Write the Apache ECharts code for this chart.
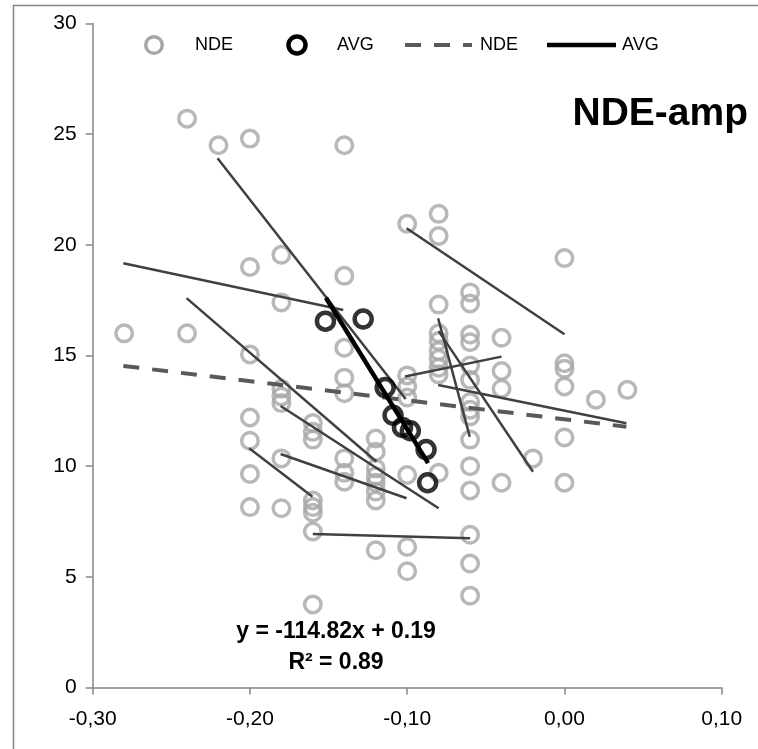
<!DOCTYPE html>
<html>
<head>
<meta charset="utf-8">
<script src="https://cdn.jsdelivr.net/npm/echarts@6/dist/echarts.min.js"></script>
<style>html,body{margin:0;padding:0;background:#fff}#c{width:758px;height:749px}</style>
</head>
<body>
<div id="c"></div>
<script>
// ---- data ----
const xTicks = [-0.3, -0.2, -0.1, 0.0, 0.1];
const yTicks = [0, 5, 10, 15, 20, 25, 30];

const ndeX = [
  -0.28,
  -0.24, -0.24,
  -0.22,
  -0.20, -0.20, -0.20, -0.20, -0.20, -0.20, -0.20,
  -0.18, -0.18, -0.18, -0.18, -0.18, -0.18, -0.18,
  -0.16, -0.16, -0.16, -0.16, -0.16, -0.16, -0.16, -0.16,
  -0.14, -0.14, -0.14, -0.14, -0.14, -0.14, -0.14, -0.14,
  -0.12, -0.12, -0.12, -0.12, -0.12, -0.12, -0.12, -0.12,
  -0.10, -0.10, -0.10, -0.10, -0.10, -0.10, -0.10,
  -0.08, -0.08, -0.08, -0.08, -0.08, -0.08, -0.08, -0.08, -0.08, -0.08,
  -0.06, -0.06, -0.06, -0.06, -0.06, -0.06, -0.06, -0.06, -0.06, -0.06, -0.06, -0.06, -0.06, -0.06, -0.06,
  -0.04, -0.04, -0.04, -0.04,
  -0.02,
  0.00, 0.00, 0.00, 0.00, 0.00, 0.00,
  0.02,
  0.04
];
const ndeY = [
  16.0,
  25.7, 16.0,
  24.5,
  24.8, 19.0, 15.05, 12.2, 11.15, 9.65, 8.15,
  19.55, 17.4, 13.5, 13.15, 12.85, 10.35, 8.1,
  11.95, 11.55, 11.2, 8.45, 8.15, 7.9, 7.05, 3.75,
  24.5, 18.6, 15.35, 14.0, 13.3, 10.35, 9.7, 9.3,
  11.25, 10.65, 9.9, 9.55, 9.25, 8.85, 8.45, 6.2,
  20.95, 14.1, 13.6, 13.1, 9.6, 6.35, 5.25,
  21.4, 20.4, 17.3, 16.0, 15.65, 15.2, 14.85, 14.45, 14.15, 9.7,
  17.85, 17.35, 15.95, 15.6, 14.55, 13.9, 12.9, 12.55, 12.25, 11.2, 10.0, 8.9, 6.9, 5.6, 4.15,
  15.8, 14.3, 13.5, 9.25,
  10.35,
  19.4, 14.65, 14.4, 13.6, 11.3, 9.25,
  13.0,
  13.45
];

const avgX = [-0.152, -0.128, -0.114, -0.109, -0.103, -0.098, -0.088, -0.087];
const avgY = [16.55, 16.65, 13.55, 12.3, 11.75, 11.6, 10.75, 9.25];

// individual (thin) fit lines: start and end points
const segX1 = [-0.2206, -0.2805, -0.1014, -0.0803, -0.0800, -0.0803, -0.1004, -0.2403, -0.1805, -0.1805, -0.2005, -0.1600];
const segY1 = [23.91, 19.17, 14.05, 16.68, 16.10, 13.67, 20.75, 17.59, 12.72, 10.55, 10.81, 6.94];
const segX2 = [-0.1010, -0.1407, -0.0400, -0.0602, -0.0200, 0.0394, 0.0000, -0.1195, -0.0800, -0.1004, -0.1602, -0.0600];
const segY2 = [13.03, 17.06, 14.95, 11.33, 9.75, 11.94, 15.96, 10.20, 8.10, 8.55, 8.62, 6.74];

// trend lines
const ndeTrendX = [-0.2805, 0.0394];
const ndeTrendY = [14.53, 11.78];
const avgTrendX = [-0.1517, -0.0867];
const avgTrendY = [17.61, 10.14];

const titleText = 'NDE-amp';
const eqLine1 = 'y = -114.82x + 0.19';
const eqLine2 = 'R² = 0.89';

// ---- chart ----
const FONT = '"Liberation Sans", Arial, sans-serif';
const chart = echarts.init(document.getElementById('c'), null, {renderer: 'canvas'});

const ndeData = ndeX.map((x, i) => [x, ndeY[i]]);
const avgData = avgX.map((x, i) => [x, avgY[i]]);

const series = [];
series.push({
  type: 'scatter', name: 'NDE', data: ndeData, symbol: 'circle', symbolSize: 16.5,
  itemStyle: {color: 'rgba(0,0,0,0)', borderColor: '#A6A6A6', borderWidth: 3.5}, z: 2, silent: true
});
segX1.forEach((x1, i) => {
  series.push({
    type: 'line', data: [[x1, segY1[i]], [segX2[i], segY2[i]]], showSymbol: false, symbol: 'none',
    lineStyle: {color: '#404040', width: 2.5}, z: 3, silent: true
  });
});
series.push({
  type: 'line', name: 'NDE trend', data: ndeTrendX.map((x, i) => [x, ndeTrendY[i]]), symbol: 'none',
  lineStyle: {color: '#595959', width: 4, type: [16, 13]}, z: 4, silent: true
});
series.push({
  type: 'scatter', name: 'AVG', data: avgData, symbol: 'circle', symbolSize: 17,
  itemStyle: {color: 'rgba(0,0,0,0)', borderColor: '#000000', borderWidth: 4.5}, z: 5, silent: true
});
series.push({
  type: 'line', name: 'AVG trend', data: avgTrendX.map((x, i) => [x, avgTrendY[i]]), symbol: 'none',
  lineStyle: {color: '#000000', width: 4.5}, z: 6, silent: true
});

const axisLineStyle = {color: '#868686', width: 1.5};

chart.setOption({
  animation: false,
  backgroundColor: '#ffffff',
  grid: {left: 92.7, right: 36.3, top: 23.5, bottom: 61.5, containLabel: false},
  xAxis: {
    type: 'value', min: xTicks[0], max: xTicks[xTicks.length - 1], interval: 0.1,
    axisLine: {show: true, onZero: false, lineStyle: axisLineStyle},
    axisTick: {show: true, length: 7, lineStyle: axisLineStyle},
    splitLine: {show: false},
    axisLabel: {
      margin: 21, color: '#000', fontSize: 21, fontFamily: FONT,
      formatter: v => (Math.abs(v) < 1e-9 ? 0 : v).toFixed(2).replace('.', ',')
    }
  },
  yAxis: {
    type: 'value', min: yTicks[0], max: yTicks[yTicks.length - 1], interval: 5,
    axisLine: {show: true, onZero: false, lineStyle: axisLineStyle},
    axisTick: {show: true, length: 7, lineStyle: axisLineStyle},
    splitLine: {show: false},
    axisLabel: {margin: 16, color: '#000', fontSize: 21, fontFamily: FONT}
  },
  series: series,
  graphic: [
    {type: 'rect', shape: {x: 13.5, y: 5.5, width: 900, height: 900}, style: {fill: 'none', stroke: '#868686', lineWidth: 1.5}, silent: true, z: 0},
    {type: 'text', x: 748, y: 114, style: {text: titleText, font: 'bold 39px ' + FONT, fill: '#000', textAlign: 'right', textVerticalAlign: 'middle'}, z: 10},
    {type: 'text', x: 336, y: 632, style: {text: eqLine1, font: 'bold 23px ' + FONT, fill: '#000', textAlign: 'center', textVerticalAlign: 'middle'}, z: 10},
    {type: 'text', x: 336, y: 663, style: {text: eqLine2, font: 'bold 23px ' + FONT, fill: '#000', textAlign: 'center', textVerticalAlign: 'middle'}, z: 10},
    // legend
    {type: 'circle', shape: {cx: 154, cy: 45, r: 8.3}, style: {fill: 'none', stroke: '#A6A6A6', lineWidth: 3.5}, z: 10},
    {type: 'text', x: 195, y: 45, style: {text: 'NDE', font: '18px ' + FONT, fill: '#000', textAlign: 'left', textVerticalAlign: 'middle'}, z: 10},
    {type: 'circle', shape: {cx: 297, cy: 45, r: 8.5}, style: {fill: 'none', stroke: '#000', lineWidth: 4.5}, z: 10},
    {type: 'text', x: 337, y: 45, style: {text: 'AVG', font: '18px ' + FONT, fill: '#000', textAlign: 'left', textVerticalAlign: 'middle'}, z: 10},
    {type: 'line', shape: {x1: 405, y1: 45, x2: 472, y2: 45}, style: {stroke: '#595959', lineWidth: 4, lineDash: [16, 13]}, z: 10},
    {type: 'text', x: 480, y: 45, style: {text: 'NDE', font: '18px ' + FONT, fill: '#000', textAlign: 'left', textVerticalAlign: 'middle'}, z: 10},
    {type: 'line', shape: {x1: 547, y1: 45, x2: 616, y2: 45}, style: {stroke: '#000', lineWidth: 4.5}, z: 10},
    {type: 'text', x: 622, y: 45, style: {text: 'AVG', font: '18px ' + FONT, fill: '#000', textAlign: 'left', textVerticalAlign: 'middle'}, z: 10}
  ]
});
</script>
</body>
</html>
